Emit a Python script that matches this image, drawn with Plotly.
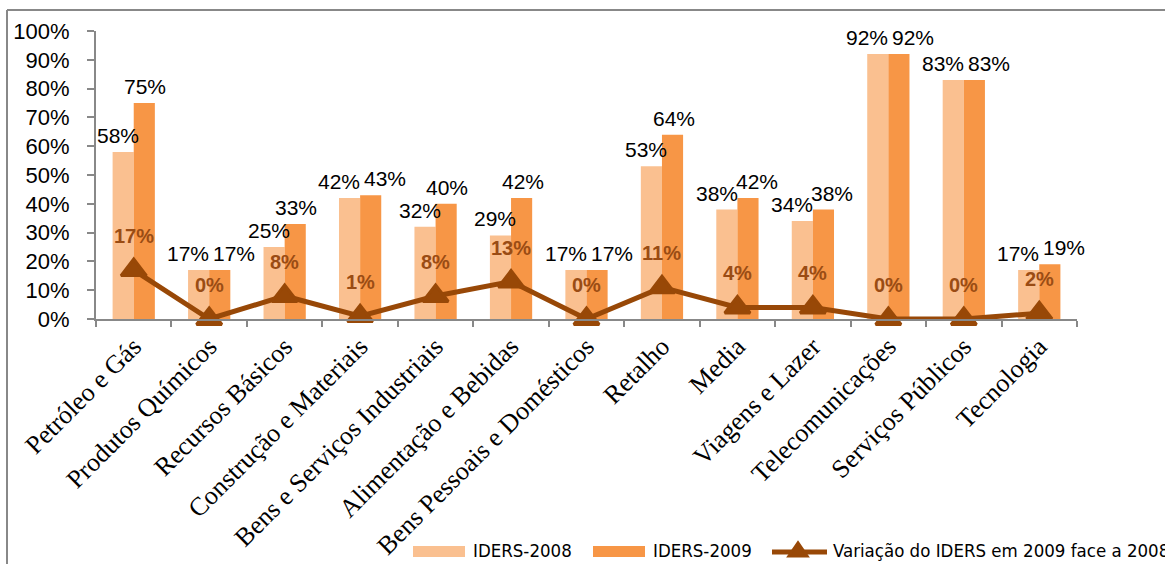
import plotly.graph_objects as go

# Sectors and index values (percent)
categories = [
    "Petróleo e Gás", "Produtos Químicos", "Recursos Básicos",
    "Construção e Materiais", "Bens e Serviços Industriais",
    "Alimentação e Bebidas", "Bens Pessoais e Domésticos", "Retalho",
    "Media", "Viagens e Lazer", "Telecomunicações", "Serviços Públicos",
    "Tecnologia",
]
iders_2008 = [58, 17, 25, 42, 32, 29, 17, 53, 38, 34, 92, 83, 17]
iders_2009 = [75, 17, 33, 43, 40, 42, 17, 64, 42, 38, 92, 83, 19]
variacao = [17, 0, 8, 1, 8, 13, 0, 11, 4, 4, 0, 0, 2]
y_ticks = [0, 10, 20, 30, 40, 50, 60, 70, 80, 90, 100]

legend_names = ["IDERS-2008", "IDERS-2009", "Variação do IDERS em 2009 face a 2008"]

# Page geometry
W, H = 1165, 564
ML, MR, MT, MB = 96, 88, 31, 245
PW, PH = W - ML - MR, H - MT - MB


def px_x(px):
    return (px - ML) / PW


def px_y(py):
    return (H - MB - py) / PH


C08 = "#FAC090"
C09 = "#F79646"
CLINE = "#984807"
CLAB = "#9A4C14"
AXIS = "#888888"
SANS = "Liberation Sans, Arial, sans-serif"
NARROW = "DejaVu Sans Condensed, Liberation Sans, sans-serif"
SERIF = "Liberation Serif, Times New Roman, serif"

BARGAP = 0.44
n = len(categories)
bar_w_px = PW / n * (1 - BARGAP) / 2

fig = go.Figure()
fig.add_bar(x=categories, y=[v / 100 for v in iders_2008], name=legend_names[0],
            marker=dict(color=C08, line=dict(width=0)), showlegend=False)
fig.add_bar(x=categories, y=[v / 100 for v in iders_2009], name=legend_names[1],
            marker=dict(color=C09, line=dict(width=0)), showlegend=False)
fig.add_scatter(x=categories, y=[v / 100 for v in variacao], name=legend_names[2],
                mode="lines+markers", cliponaxis=False, showlegend=False,
                line=dict(color=CLINE, width=5),
                marker=dict(symbol="triangle-up", size=22, color=CLINE,
                            line=dict(color=CLINE, width=3)))

annotations = []
# Bar value labels; close pairs are pushed apart so they stay readable
for cat, a, b in zip(categories, iders_2008, iders_2009):
    if abs(a - b) <= 2:
        sh_a, sh_b = -21, 25
    elif abs(a - b) <= 4:
        sh_a, sh_b = -bar_w_px / 2 - 10, bar_w_px / 2 + 9
    else:
        sh_a, sh_b = -bar_w_px / 2 - 5, bar_w_px / 2 + 1
    for v, sh in ((a, sh_a), (b, sh_b)):
        annotations.append(dict(
            x=cat, y=v / 100, xref="x", yref="y", text=f"{v}%",
            showarrow=False, xanchor="center", yanchor="bottom",
            xshift=sh, yshift=3,
            font=dict(family=SANS, size=21, color="#000000")))

# Variation labels above the line markers
for cat, v in zip(categories, variacao):
    annotations.append(dict(
        x=cat, y=v / 100, xref="x", yref="y", text=f"<b>{v}%</b>",
        showarrow=False, xanchor="center", yanchor="bottom", yshift=21,
        font=dict(family=SANS, size=20, color=CLAB)))

# Legend drawn along the bottom edge
shapes = [
    dict(type="rect", xref="paper", yref="paper",
         x0=px_x(413), x1=px_x(465), y0=px_y(557), y1=px_y(546),
         fillcolor=C08, line=dict(width=0)),
    dict(type="rect", xref="paper", yref="paper",
         x0=px_x(593), x1=px_x(645), y0=px_y(557), y1=px_y(546),
         fillcolor=C09, line=dict(width=0)),
    dict(type="line", xref="paper", yref="paper",
         x0=px_x(772), x1=px_x(827), y0=px_y(552), y1=px_y(552),
         line=dict(color=CLINE, width=5)),
    dict(type="path", xref="paper", yref="paper",
         path=(f"M {px_x(789)},{px_y(556)} L {px_x(807)},{px_y(556)} "
               f"L {px_x(798)},{px_y(543)} Z"),
         fillcolor=CLINE, line=dict(color=CLINE, width=3)),
    # chart frame
    dict(type="line", xref="paper", yref="paper",
         x0=px_x(7), x1=px_x(7), y0=px_y(10), y1=px_y(620),
         line=dict(color=AXIS, width=2)),
    dict(type="line", xref="paper", yref="paper",
         x0=px_x(7), x1=px_x(1200), y0=px_y(10), y1=px_y(10),
         line=dict(color=AXIS, width=2)),
]
for name, xpx in zip(legend_names, (471, 651, 831)):
    annotations.append(dict(
        x=px_x(xpx), y=px_y(550), xref="paper", yref="paper", text=name,
        showarrow=False, xanchor="left", yanchor="middle",
        font=dict(family=NARROW, size=18.5, color="#000000")))

fig.update_layout(
    width=W, height=H,
    margin=dict(l=ML, r=MR, t=MT, b=MB, autoexpand=False),
    paper_bgcolor="white", plot_bgcolor="white",
    barmode="group", bargap=BARGAP, bargroupgap=0,
    showlegend=False,
    annotations=annotations, shapes=shapes,
    xaxis=dict(
        type="category", range=[-0.5, n - 0.5],
        showline=True, linecolor=AXIS, linewidth=2,
        ticks="outside", tickson="boundaries", ticklen=6, tickwidth=2,
        tickcolor=AXIS, tickangle=-45, showgrid=False, zeroline=False,
        tickfont=dict(family=SERIF, size=26, color="#000000"),
    ),
    yaxis=dict(
        range=[0, 1], tickvals=[t / 100 for t in y_ticks],
        ticktext=[f"{t}%" for t in y_ticks],
        showline=True, linecolor=AXIS, linewidth=2,
        ticks="outside", ticklen=7, tickwidth=2, tickcolor=AXIS,
        showgrid=False, zeroline=False, ticklabelstandoff=13,
        tickfont=dict(family=SANS, size=22, color="#000000"),
    ),
)

fig.write_html("out.html")
